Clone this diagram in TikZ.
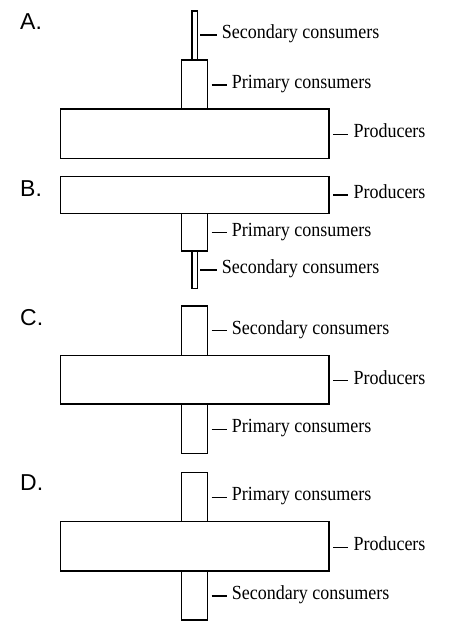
\documentclass[tikz,border=0pt]{standalone}
\usepackage{graphicx}
\usepackage{fontspec}
\setmainfont{Liberation Serif}
\newfontfamily\panelfont{Liberation Sans}
\newcommand\narrowtext[1]{\scalebox{0.9}[1]{#1}}
\begin{document}
\begin{tikzpicture}[x=1pt,y=-1pt,
  box/.style={draw, line width=1.4pt, inner sep=0pt, outer sep=0pt},
  lbl/.style={anchor=west, inner xsep=5pt, inner ysep=0pt, text height=1.45ex, text depth=0pt, font=\fontsize{20}{22}\selectfont},
  tick/.style={line width=1.4pt},
  panel/.style={anchor=west, inner sep=0pt, font=\panelfont\fontsize{23}{26}\selectfont}]
\useasboundingbox (0,0) rectangle (451,628);
% ---------- A ----------
\node[panel] (labA) at (20,21.5) {A.};
\node[box, minimum width=268.3pt, minimum height=49.3pt] (prodA) at (194.85,133.65) {};
\node[box, minimum width=26pt, minimum height=49pt] (primA) at (194.7,84.5) {};
\node[box, minimum width=5.3pt, minimum height=49pt] (secA) at (194.65,35.5) {};
\coordinate (tsA) at (200,35);
\node[lbl] (lsA) at (216.7,35) {\narrowtext{Secondary consumers}};
\draw[tick] (tsA) -- (lsA.west);
\coordinate (tpA) at (211.7,85);
\node[lbl] (lpA) at (226.7,85) {\narrowtext{Primary consumers}};
\draw[tick] (tpA) -- (lpA.west);
\coordinate (trA) at (333.3,134.3);
\node[lbl] (lrA) at (348.3,134.3) {\narrowtext{Producers}};
\draw[tick] (trA) -- (lrA.west);
% ---------- B ----------
\node[panel] (labB) at (20,188.3) {B.};
\node[box, minimum width=268.3pt, minimum height=36.6pt] (prodB) at (194.85,195) {};
\node[box, minimum width=26pt, minimum height=37.7pt] (primB) at (194.7,232.15) {};
\node[box, minimum width=5.3pt, minimum height=37.3pt] (secB) at (194.65,269.65) {};
\coordinate (trB) at (333.3,195);
\node[lbl] (lrB) at (348.3,195) {\narrowtext{Producers}};
\draw[tick] (trB) -- (lrB.west);
\coordinate (tpB) at (211.7,232.7);
\node[lbl] (lpB) at (226.7,232.7) {\narrowtext{Primary consumers}};
\draw[tick] (tpB) -- (lpB.west);
\coordinate (tsB) at (200,270);
\node[lbl] (lsB) at (216.7,270) {\narrowtext{Secondary consumers}};
\draw[tick] (tsB) -- (lsB.west);
% ---------- C ----------
\node[panel] (labC) at (20,317.8) {C.};
\node[box, minimum width=26pt, minimum height=49.7pt] (secC) at (194.7,330.85) {};
\node[box, minimum width=26pt, minimum height=49.3pt] (primC) at (194.7,428.65) {};
\node[box, minimum width=268.3pt, minimum height=48.3pt, fill=white] (prodC) at (194.85,379.85) {};
\coordinate (tsC) at (211.7,330.7);
\node[lbl] (lsC) at (226.7,330.7) {\narrowtext{Secondary consumers}};
\draw[tick] (tsC) -- (lsC.west);
\coordinate (trC) at (333.3,380.7);
\node[lbl] (lrC) at (348.3,380.7) {\narrowtext{Producers}};
\draw[tick] (trC) -- (lrC.west);
\coordinate (tpC) at (211.7,429.3);
\node[lbl] (lpC) at (226.7,429.3) {\narrowtext{Primary consumers}};
\draw[tick] (tpC) -- (lpC.west);
% ---------- D ----------
\node[panel] (labD) at (20,482.3) {D.};
\node[box, minimum width=26pt, minimum height=49.4pt] (primD) at (194.7,497) {};
\node[box, minimum width=26pt, minimum height=49pt] (secD) at (194.7,595.5) {};
\node[box, minimum width=268.3pt, minimum height=49.3pt, fill=white] (prodD) at (194.85,546.35) {};
\coordinate (tpD) at (211.7,497.3);
\node[lbl] (lpD) at (226.7,497.3) {\narrowtext{Primary consumers}};
\draw[tick] (tpD) -- (lpD.west);
\coordinate (trD) at (333.3,547.3);
\node[lbl] (lrD) at (348.3,547.3) {\narrowtext{Producers}};
\draw[tick] (trD) -- (lrD.west);
\coordinate (tsD) at (211.7,596);
\node[lbl] (lsD) at (226.7,596) {\narrowtext{Secondary consumers}};
\draw[tick] (tsD) -- (lsD.west);
\end{tikzpicture}
\end{document}
